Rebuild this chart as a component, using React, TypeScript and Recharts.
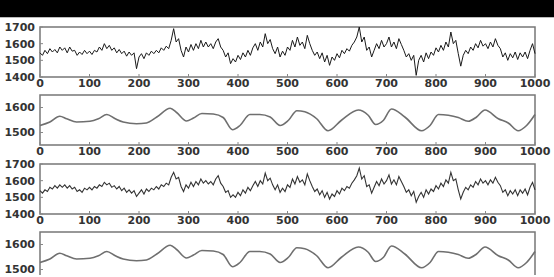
import React from "react";
import { LineChart, Line, XAxis, YAxis, ReferenceArea } from "recharts";

// raw signal, one reading every 5 samples (0..1000)
const SAMPLE_STEP = 5;
const rawSignal = [
  1545, 1530, 1560, 1540, 1570, 1550, 1565, 1545, 1580, 1560, 1575, 1545, 1580, 1555, 1560, 1530,
  1550, 1535, 1560, 1540, 1555, 1535, 1560, 1550, 1580, 1560, 1600, 1570, 1590, 1560, 1575, 1545,
  1565, 1540, 1555, 1525, 1550, 1530, 1545, 1450, 1520, 1540, 1510, 1545, 1530, 1555, 1540, 1560,
  1545, 1575, 1560, 1585, 1570, 1620, 1690, 1610, 1630, 1560, 1520, 1580, 1550, 1595, 1560, 1600,
  1570, 1620, 1580, 1610, 1580, 1600, 1570, 1610, 1630, 1580, 1560, 1520, 1545, 1480, 1510, 1490,
  1530, 1505, 1545, 1520, 1560, 1530, 1575, 1600, 1560, 1610, 1580, 1660, 1600, 1625, 1570, 1540,
  1580, 1520, 1555, 1530, 1580, 1560, 1620, 1580, 1640, 1590, 1610, 1570, 1650, 1600, 1560, 1530,
  1550, 1510, 1545, 1490, 1530, 1470, 1520, 1500, 1540, 1515, 1560, 1540, 1570, 1555, 1590, 1610,
  1640, 1700, 1610, 1640, 1560, 1580, 1520, 1560, 1600, 1570, 1620, 1580, 1600, 1640, 1580, 1610,
  1570, 1630, 1595, 1560, 1520, 1540, 1500, 1530, 1410, 1500, 1530, 1490, 1545, 1510, 1550, 1530,
  1575, 1550, 1590, 1560, 1610, 1580, 1670, 1600, 1620, 1540, 1465, 1530, 1560, 1540, 1580, 1560,
  1600, 1575, 1620, 1585, 1600, 1570, 1610, 1580, 1630, 1590, 1570, 1520, 1545, 1500, 1540, 1515,
  1550, 1505, 1545, 1520, 1550, 1510, 1560, 1600, 1540,
];

// lightly filtered signal, same sampling
const filteredSignal = [
  1540, 1525, 1545, 1535, 1560, 1550, 1570, 1555, 1575, 1560, 1575, 1555, 1570, 1550, 1560, 1535,
  1545, 1530, 1555, 1545, 1560, 1545, 1565, 1555, 1575, 1565, 1590, 1575, 1585, 1560, 1570, 1550,
  1565, 1540, 1555, 1530, 1545, 1525, 1540, 1505, 1525, 1545, 1520, 1550, 1535, 1555, 1545, 1565,
  1550, 1575, 1565, 1585, 1575, 1620, 1650, 1610, 1620, 1565, 1535, 1575, 1555, 1590, 1565, 1595,
  1575, 1610, 1585, 1600, 1580, 1595, 1575, 1610, 1630, 1585, 1565, 1530, 1540, 1500, 1515, 1500,
  1530, 1510, 1545, 1525, 1560, 1540, 1570, 1595, 1565, 1600, 1580, 1645, 1600, 1615, 1575, 1545,
  1575, 1530, 1555, 1535, 1575, 1560, 1610, 1580, 1625, 1590, 1605, 1575, 1640, 1600, 1565, 1535,
  1550, 1515, 1540, 1500, 1530, 1490, 1520, 1505, 1540, 1520, 1555, 1540, 1565, 1555, 1585, 1605,
  1630, 1675, 1610, 1630, 1565, 1575, 1525, 1560, 1595, 1570, 1610, 1580, 1600, 1635, 1580, 1605,
  1575, 1625, 1595, 1565, 1530, 1545, 1510, 1535, 1470, 1505, 1530, 1500, 1545, 1520, 1550, 1535,
  1570, 1550, 1585, 1565, 1605, 1585, 1650, 1600, 1610, 1545, 1490, 1530, 1560, 1545, 1575, 1560,
  1595, 1575, 1610, 1585, 1600, 1575, 1605, 1585, 1620, 1590, 1570, 1530, 1545, 1510, 1540, 1520,
  1545, 1510, 1545, 1525, 1550, 1515, 1560, 1590, 1545,
];

// smoothed trend
const trendX = [
  0, 20, 40, 54, 74, 101, 118, 135, 152, 168, 195, 215, 236, 263, 276, 296, 310, 327, 350, 370, 389,
  404, 424, 444, 465, 485, 502, 519, 535, 559, 582, 609, 643, 663, 678, 694, 710, 737, 771, 788, 805,
  825, 845, 865, 882, 899, 926, 946, 966, 983, 1000,
];
const trendY = [
  1528, 1542, 1565, 1555, 1542, 1545, 1555, 1572, 1555, 1542, 1535, 1538, 1562, 1597, 1580, 1546,
  1558, 1576, 1574, 1560, 1511, 1528, 1572, 1572, 1562, 1528, 1549, 1587, 1583, 1555, 1507, 1549,
  1590, 1569, 1532, 1549, 1594, 1562, 1507, 1528, 1572, 1569, 1560, 1545, 1562, 1590, 1555, 1538,
  1507, 1528, 1572,
];

const xTicks = [0, 100, 200, 300, 400, 500, 600, 700, 800, 900, 1000];
const wideTicks = [1400, 1500, 1600, 1700];
const narrowTicks = [1500, 1600];

const rawRows = rawSignal.map((v, i) => ({ x: i * SAMPLE_STEP, y: v }));
const filteredRows = filteredSignal.map((v, i) => ({ x: i * SAMPLE_STEP, y: v }));
const trendRows = trendX.map((x, i) => ({ x, y: trendY[i] }));

const tickStyle = { fontFamily: "DejaVu Sans", fontWeight: 700, fontSize: 11, fill: "#333" };

type PanelProps = {
  top: number;
  rows: { x: number; y: number }[];
  domain: [number, number];
  yTicks: number[];
  color: string;
  width: number;
  smooth?: boolean;
  clip?: number;
};

const Panel = ({ top, rows, domain, yTicks, color, width, smooth, clip }: PanelProps) => (
  <div style={{ position: "absolute", left: 0, top, height: clip, overflow: clip ? "hidden" : "visible" }}>
    <LineChart width={554} height={75} data={rows} margin={{ top: 5, right: 19, bottom: 0, left: 0 }}>
      <XAxis
        dataKey="x"
        type="number"
        domain={[0, 1000]}
        ticks={xTicks}
        interval={0}
        height={20}
        tickSize={-3}
        tickMargin={5}
        tick={tickStyle}
        axisLine={false}
        tickLine={{ stroke: "#888" }}
      />
      <YAxis
        type="number"
        domain={domain}
        ticks={yTicks}
        interval={0}
        width={40}
        tickSize={-3}
        tickMargin={8}
        tick={tickStyle}
        axisLine={false}
        tickLine={{ stroke: "#888" }}
        allowDataOverflow
      />
      <ReferenceArea
        x1={0}
        x2={1000}
        y1={domain[0]}
        y2={domain[1]}
        fill="none"
        stroke="#777"
        strokeWidth={1.5}
        ifOverflow="extendDomain"
      />
      <Line
        dataKey="y"
        type={smooth ? "monotone" : "linear"}
        stroke={color}
        strokeWidth={width}
        dot={false}
        isAnimationActive={false}
      />
    </LineChart>
  </div>
);

export default function App() {
  return (
    <div
      style={{
        position: "absolute",
        left: 0,
        top: 0,
        width: 554,
        height: 277,
        overflow: "hidden",
        background: "#fff",
      }}
    >
      <div style={{ position: "absolute", left: 0, top: 0, width: 554, height: 17, background: "#000" }} />
      <div style={{ position: "absolute", left: 0, top: 17, width: 554, height: 1, background: "#bbb" }} />
      <Panel top={22} rows={rawRows} domain={[1400, 1700]} yTicks={wideTicks} color="#1a1a1a" width={1} />
      <Panel top={90} rows={trendRows} domain={[1450, 1650]} yTicks={narrowTicks} color="#6f6f6f" width={1.6} smooth />
      <Panel top={159} rows={filteredRows} domain={[1400, 1700]} yTicks={wideTicks} color="#333" width={1.1} />
      <Panel top={227} rows={trendRows} domain={[1450, 1650]} yTicks={narrowTicks} color="#6f6f6f" width={1.6} smooth clip={48} />
    </div>
  );
}
